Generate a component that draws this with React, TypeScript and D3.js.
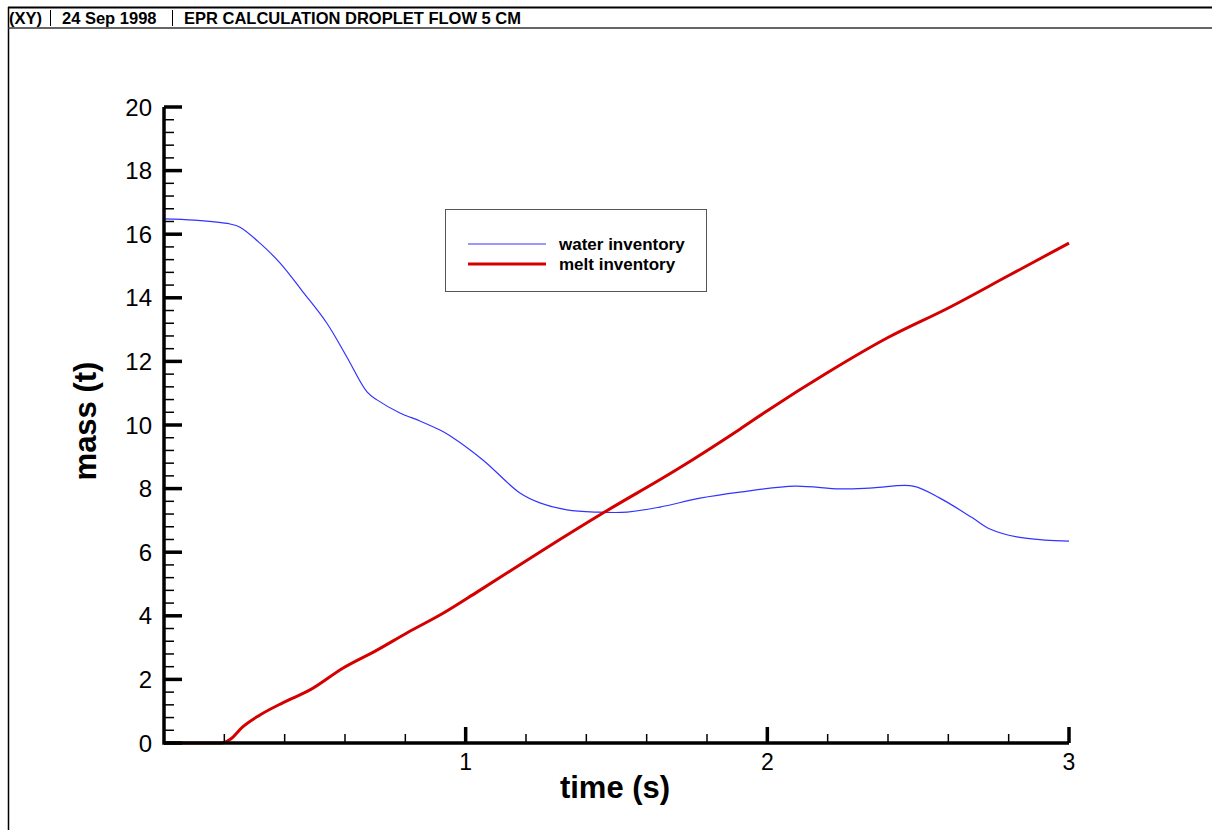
import React from "react";
import * as d3 from "d3";

const headerItems = ["(XY)", "24 Sep 1998", "EPR CALCULATION DROPLET FLOW 5 CM"];
const xTickLabels = [1, 2, 3];
const yTickLabels = [0, 2, 4, 6, 8, 10, 12, 14, 16, 18, 20];

const waterT = [0, 0.1, 0.219, 0.252, 0.318, 0.385, 0.461, 0.54, 0.606, 0.673, 0.706, 0.782, 0.85, 0.915, 0.948, 1.057, 1.18, 1.246, 1.336, 1.435, 1.535, 1.644, 1.777, 1.909, 2.09, 2.24, 2.35, 2.483, 2.572, 2.68, 2.738, 2.827, 2.92, 3.0];
const waterM = [16.48, 16.44, 16.32, 16.22, 15.72, 15.09, 14.18, 13.2, 12.14, 11.04, 10.79, 10.38, 10.12, 9.84, 9.66, 8.9, 7.86, 7.55, 7.33, 7.26, 7.26, 7.42, 7.7, 7.89, 8.08, 7.99, 8.02, 8.08, 7.7, 7.08, 6.73, 6.48, 6.38, 6.35];

const meltT = [0, 0.1, 0.19, 0.22, 0.26, 0.318, 0.395, 0.484, 0.594, 0.706, 0.805, 0.925, 1.04, 1.257, 1.455, 1.7, 1.909, 2.0, 2.2, 2.4, 2.6, 2.8, 3.0];
const meltM = [0, 0, 0, 0.12, 0.5, 0.88, 1.27, 1.67, 2.36, 2.92, 3.46, 4.08, 4.76, 6.07, 7.23, 8.6, 9.87, 10.45, 11.65, 12.75, 13.68, 14.7, 15.72];

const legendLabels = ["water inventory", "melt inventory"];

export default function App() {
  const W = 1212, H = 830;
  const x = d3.scaleLinear().domain([0, 3]).range([164, 1069]);
  const y = d3.scaleLinear().domain([0, 20]).range([743, 107]);
  const waterLine = d3.line<[number, number]>().x(d => x(d[0])).y(d => y(d[1])).curve(d3.curveCatmullRom.alpha(0.5));
  const meltLine = d3.line<[number, number]>().x(d => x(d[0])).y(d => y(d[1])).curve(d3.curveMonotoneX);
  const water = waterT.map((t, i) => [t, waterM[i]] as [number, number]);
  const melt = meltT.map((t, i) => [t, meltM[i]] as [number, number]);
  const yMinor = d3.range(0, 20.001, 0.4).filter(v => Math.abs(v / 2 - Math.round(v / 2)) > 1e-6);
  const xMinor = d3.range(0.2, 3, 0.2).filter(v => Math.abs(v - Math.round(v)) > 1e-6);
  const font = "'Liberation Sans', Arial, sans-serif";
  const headerX = [9, 62, 184];
  return (
    <svg width={W} height={H} style={{ position: "absolute", left: 0, top: 0 }} fontFamily={font}>
      <rect x={0} y={0} width={W} height={H} fill="#fff" />
      {/* frame */}
      <line x1={8} x2={W} y1={7.5} y2={7.5} stroke="#000" strokeWidth={2} />
      <line x1={8.5} x2={8.5} y1={7} y2={H} stroke="#000" strokeWidth={1.5} />
      <line x1={8} x2={W} y1={28} y2={28} stroke="#333" strokeWidth={1.5} />
      <line x1={50.5} x2={50.5} y1={10} y2={26} stroke="#000" strokeWidth={1} />
      <line x1={172.5} x2={172.5} y1={10} y2={26} stroke="#000" strokeWidth={1} />
      {headerItems.map((h, i) => (
        <text key={h} x={headerX[i]} y={24} fontSize={16.5} fontWeight="bold">{h}</text>
      ))}
      {/* lines */}
      <path d={waterLine(water) || ""} fill="none" stroke="#3333ff" strokeWidth={1.2} />
      <path d={meltLine(melt) || ""} fill="none" stroke="#d40000" strokeWidth={3} />
      {/* axes */}
      <line x1={x(0)} x2={x(3)} y1={y(0)} y2={y(0)} stroke="#000" strokeWidth={3.5} />
      <line x1={x(0)} x2={x(0)} y1={y(0) + 1.75} y2={y(20)} stroke="#000" strokeWidth={3.5} />
      {yTickLabels.map(v => (
        <g key={"y" + v}>
          <line x1={x(0)} x2={x(0) + 18} y1={y(v)} y2={y(v)} stroke="#000" strokeWidth={3.5} />
          <text x={152} y={y(v) + 8.5} fontSize={24} textAnchor="end">{v}</text>
        </g>
      ))}
      {yMinor.map(v => (
        <line key={"ym" + v} x1={x(0)} x2={x(0) + 10} y1={y(v)} y2={y(v)} stroke="#000" strokeWidth={1.5} />
      ))}
      {xTickLabels.map(v => (
        <g key={"x" + v}>
          <line x1={x(v)} x2={x(v)} y1={y(0)} y2={y(0) - 16} stroke="#000" strokeWidth={3.5} />
          <text x={x(v)} y={770} fontSize={23} textAnchor="middle">{v}</text>
        </g>
      ))}
      {xMinor.map(v => (
        <line key={"xm" + v} x1={x(v)} x2={x(v)} y1={y(0)} y2={y(0) - 9} stroke="#000" strokeWidth={1.5} />
      ))}
      <text x={615} y={798} fontSize={31} fontWeight="bold" textAnchor="middle">time (s)</text>
      <text transform={`translate(96,421) rotate(-90)`} fontSize={31} fontWeight="bold" textAnchor="middle">mass (t)</text>
      {/* legend */}
      <rect x={445.5} y={209.5} width={261} height={82} fill="#fff" stroke="#555" strokeWidth={1} />
      <line x1={468} x2={546} y1={244} y2={244} stroke="#3333ff" strokeWidth={1.2} />
      <line x1={468} x2={546} y1={264} y2={264} stroke="#d40000" strokeWidth={3} />
      {legendLabels.map((l, i) => (
        <text key={l} x={559} y={250 + i * 20} fontSize={17} fontWeight="bold">{l}</text>
      ))}
    </svg>
  );
}
